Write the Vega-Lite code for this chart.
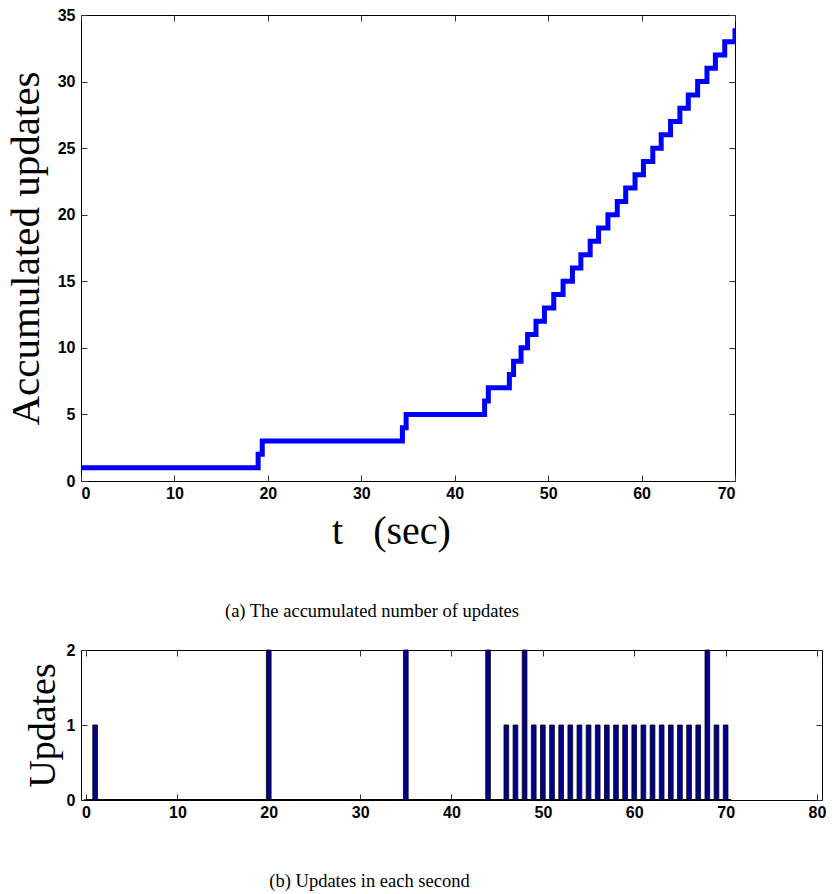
{
  "$schema": "https://vega.github.io/schema/vega-lite/v6.json",
  "padding": {"left": 4, "top": 6, "right": 0, "bottom": 0},
  "background": "white",
  "config": {
    "view": {"stroke": "black", "strokeWidth": 1},
    "axis": {
      "labelFont": "Liberation Sans", "labelFontWeight": "bold", "labelFontSize": 16, "labelColor": "black",
      "grid": false, "domain": false, "tickColor": "#333333", "tickSize": -6, "tickWidth": 1, "format": "d",
      "titleFont": "Liberation Serif", "titleFontWeight": "normal", "titleColor": "black"
    },
    "title": {"font": "Liberation Serif", "fontSize": 18.5, "fontWeight": "normal", "color": "black"}
  },
  "datasets": {
    "acc": [
      {"t": 0, "n": 1}, {"t": 18.96, "n": 2}, {"t": 19.4, "n": 3}, {"t": 34.4, "n": 4}, {"t": 34.8, "n": 5},
      {"t": 43.2, "n": 6}, {"t": 43.6, "n": 7}, {"t": 45.85, "n": 8}, {"t": 46.3, "n": 9}, {"t": 47.1, "n": 10},
      {"t": 47.8, "n": 11}, {"t": 48.7, "n": 12}, {"t": 49.6, "n": 13}, {"t": 50.6, "n": 14}, {"t": 51.6, "n": 15},
      {"t": 52.6, "n": 16}, {"t": 53.5, "n": 17}, {"t": 54.5, "n": 18}, {"t": 55.4, "n": 19}, {"t": 56.4, "n": 20},
      {"t": 57.4, "n": 21}, {"t": 58.3, "n": 22}, {"t": 59.3, "n": 23}, {"t": 60.2, "n": 24}, {"t": 61.2, "n": 25},
      {"t": 62.1, "n": 26}, {"t": 63.1, "n": 27}, {"t": 64.1, "n": 28}, {"t": 65.0, "n": 29}, {"t": 66.0, "n": 30},
      {"t": 67.0, "n": 31}, {"t": 67.9, "n": 32}, {"t": 68.9, "n": 33}, {"t": 70, "n": 34}
    ],
    "per": [
      {"s": 0, "u": 0}, {"s": 1, "u": 1}, {"s": 2, "u": 0}, {"s": 3, "u": 0}, {"s": 4, "u": 0}, {"s": 5, "u": 0},
      {"s": 6, "u": 0}, {"s": 7, "u": 0}, {"s": 8, "u": 0}, {"s": 9, "u": 0}, {"s": 10, "u": 0}, {"s": 11, "u": 0},
      {"s": 12, "u": 0}, {"s": 13, "u": 0}, {"s": 14, "u": 0}, {"s": 15, "u": 0}, {"s": 16, "u": 0}, {"s": 17, "u": 0},
      {"s": 18, "u": 0}, {"s": 19, "u": 0}, {"s": 20, "u": 2}, {"s": 21, "u": 0}, {"s": 22, "u": 0}, {"s": 23, "u": 0},
      {"s": 24, "u": 0}, {"s": 25, "u": 0}, {"s": 26, "u": 0}, {"s": 27, "u": 0}, {"s": 28, "u": 0}, {"s": 29, "u": 0},
      {"s": 30, "u": 0}, {"s": 31, "u": 0}, {"s": 32, "u": 0}, {"s": 33, "u": 0}, {"s": 34, "u": 0}, {"s": 35, "u": 2},
      {"s": 36, "u": 0}, {"s": 37, "u": 0}, {"s": 38, "u": 0}, {"s": 39, "u": 0}, {"s": 40, "u": 0}, {"s": 41, "u": 0},
      {"s": 42, "u": 0}, {"s": 43, "u": 0}, {"s": 44, "u": 2}, {"s": 45, "u": 0}, {"s": 46, "u": 1}, {"s": 47, "u": 1},
      {"s": 48, "u": 2}, {"s": 49, "u": 1}, {"s": 50, "u": 1}, {"s": 51, "u": 1}, {"s": 52, "u": 1}, {"s": 53, "u": 1},
      {"s": 54, "u": 1}, {"s": 55, "u": 1}, {"s": 56, "u": 1}, {"s": 57, "u": 1}, {"s": 58, "u": 1}, {"s": 59, "u": 1},
      {"s": 60, "u": 1}, {"s": 61, "u": 1}, {"s": 62, "u": 1}, {"s": 63, "u": 1}, {"s": 64, "u": 1}, {"s": 65, "u": 1},
      {"s": 66, "u": 1}, {"s": 67, "u": 1}, {"s": 68, "u": 2}, {"s": 69, "u": 1}, {"s": 70, "u": 1}
    ],
    "baseline": [{"from": 0, "to": 70.6, "level": 0}]
  },
  "spacing": 20,
  "vconcat": [
    {
      "width": 654,
      "height": 466,
      "title": {"text": "(a)  The accumulated number of updates", "orient": "bottom", "offset": 51, "dx": -36},
      "layer": [
        {
          "data": {"name": "acc"},
          "mark": {"type": "line", "interpolate": "step-after", "color": "#0000FF", "strokeWidth": 5, "clip": true},
          "encoding": {
            "x": {"field": "t", "type": "quantitative", "scale": {"domain": [0, 70], "nice": false, "zero": false},
              "axis": {"orient": "bottom", "values": [0, 10, 20, 30, 40, 50, 60, 70], "title": "t\u00a0\u00a0\u00a0(sec)", "titleFontSize": 40, "titleX": 310, "labelPadding": 10, "titlePadding": 10}},
            "y": {"field": "n", "type": "quantitative", "scale": {"domain": [0, 35], "nice": false},
              "axis": {"orient": "left", "values": [0, 5, 10, 15, 20, 25, 30, 35], "title": "Accumulated updates", "titleFontSize": 41, "labelPadding": 12, "titlePadding": 10}}
          }
        },
        {
          "data": {"name": "acc"},
          "mark": {"type": "line", "opacity": 0},
          "encoding": {
            "x": {"field": "t", "type": "quantitative", "axis": {"orient": "top", "values": [0, 10, 20, 30, 40, 50, 60, 70], "labels": false, "title": null}},
            "y": {"field": "n", "type": "quantitative", "axis": {"orient": "right", "values": [0, 5, 10, 15, 20, 25, 30, 35], "labels": false, "title": null}}
          }
        }
      ],
      "resolve": {"axis": {"x": "independent", "y": "independent"}}
    },
    {
      "width": 741,
      "height": 150,
      "title": {"text": "(b)  Updates in each second", "orient": "bottom", "offset": 52, "dx": -82},
      "layer": [
        {
          "data": {"name": "per"},
          "mark": {"type": "bar", "color": "#00008F", "stroke": "black", "strokeWidth": 0.8, "size": 4.7},
          "encoding": {
            "x": {"field": "s", "type": "quantitative", "scale": {"domain": [0, 80], "nice": false},
              "axis": {"orient": "bottom", "values": [0, 10, 20, 30, 40, 50, 60, 70, 80], "title": null, "labelPadding": 10}},
            "y": {"field": "u", "type": "quantitative", "scale": {"domain": [0, 2], "nice": false},
              "axis": {"orient": "left", "values": [0, 1, 2], "title": "Updates", "titleFontSize": 38, "labelPadding": 12, "titlePadding": 4}}
          }
        },
        {
          "data": {"name": "per"},
          "mark": {"type": "bar", "opacity": 0},
          "encoding": {
            "x": {"field": "s", "type": "quantitative", "axis": {"orient": "top", "values": [0, 10, 20, 30, 40, 50, 60, 70, 80], "labels": false, "title": null}},
            "y": {"field": "u", "type": "quantitative", "axis": {"orient": "right", "values": [0, 1, 2], "labels": false, "title": null}}
          }
        },
        {
          "data": {"name": "baseline"},
          "mark": {"type": "rule", "color": "black", "strokeWidth": 2},
          "encoding": {
            "x": {"field": "from", "type": "quantitative", "axis": null},
            "x2": {"field": "to"},
            "y": {"field": "level", "type": "quantitative", "axis": null}
          }
        }
      ],
      "resolve": {"axis": {"x": "independent", "y": "independent"}}
    }
  ]
}
